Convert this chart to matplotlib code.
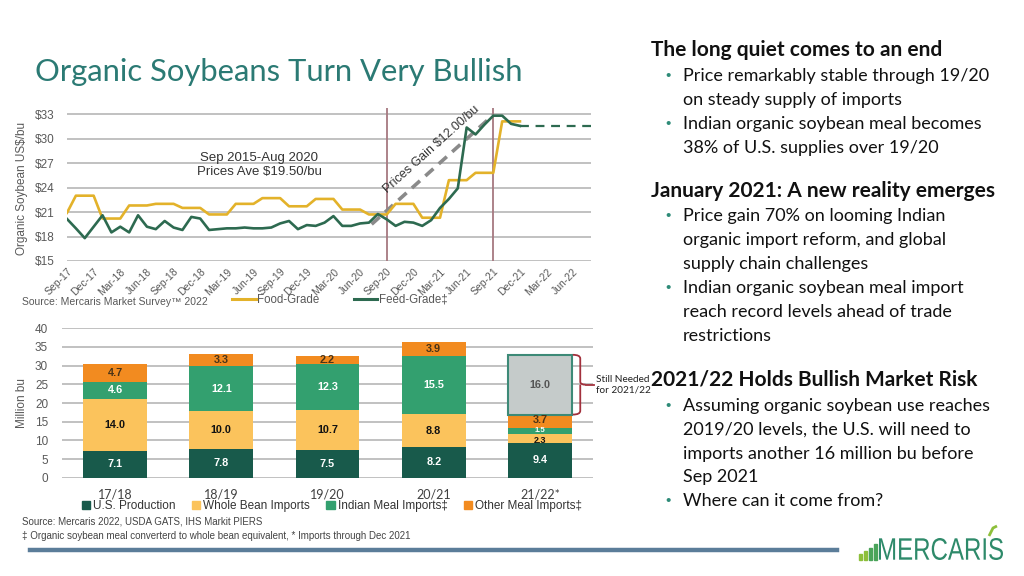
import numpy as np
import pandas as pd
import matplotlib
matplotlib.use("Agg")
import matplotlib.pyplot as plt
from matplotlib.lines import Line2D
from matplotlib.patches import Patch, Rectangle, PathPatch
from matplotlib.path import Path
from matplotlib.textpath import TextPath
from matplotlib.font_manager import FontProperties
from matplotlib.transforms import Affine2D

plt.rcParams['text.parse_math'] = False
plt.rcParams['font.family'] = ['Liberation Sans', 'DejaVu Sans']

# ---- line chart data: monthly prices Sep-17 .. Dec-21, $/bu
food_grade = [20.9, 23.0, 23.0, 23.0, 20.2, 20.2, 20.2, 21.8, 21.8, 21.8,
              22.0, 22.0, 22.0, 21.5, 21.5, 21.5, 20.7, 20.7, 20.7, 22.0,
              22.0, 22.0, 22.7, 22.7, 22.7, 21.7, 21.7, 21.7, 22.6, 22.6,
              22.6, 21.3, 21.3, 21.3, 20.7, 20.7, 20.7, 22.0, 22.0, 22.0,
              20.3, 20.3, 20.3, 24.9, 24.9, 24.9, 25.8, 25.8, 25.8, 32.1,
              32.1, 32.1]
feed_grade = [20.15, 19.0, 17.8, 19.2, 20.6, 18.5, 19.2, 18.5, 20.6, 19.2,
              18.9, 19.9, 19.1, 18.8, 20.4, 20.2, 18.8, 18.9, 19.0, 19.0,
              19.1, 19.0, 19.0, 19.1, 19.6, 19.9, 18.9, 19.4, 19.3, 19.7,
              20.5, 19.3, 19.3, 19.6, 19.7, 20.75, 20.1, 19.3, 19.8, 19.7,
              19.3, 20.0, 21.5, 22.6, 23.9, 31.35, 30.5, 31.7, 32.8, 32.8,
              31.8, 31.55]
# feed-grade outlook (dashed), Dec-21 -> Aug-22
outlook_idx = [51, 59]
outlook_val = [31.55, 31.55]
# "prices gain" guide line (month index, $/bu)
gain_idx = [34.3, 48.0]
gain_val = [19.5, 32.9]
marker_months = ['Sep-20', 'Sep-21']

months = pd.date_range('2017-09-01', '2022-08-01', freq='MS')
month_labels = [d.strftime('%b-%y') for d in months]

# ---- bar chart data, million bu
seasons = ['17/18', '18/19', '19/20', '20/21', '21/22*']
us_production = [7.1, 7.8, 7.5, 8.2, 9.4]
whole_bean = [14.0, 10.0, 10.7, 8.8, 2.3]
indian_meal = [4.6, 12.1, 12.3, 15.5, 1.5]
other_meal = [4.7, 3.3, 2.2, 3.9, 3.7]
still_needed = [0, 0, 0, 0, 16.0]

W, H = 1024, 576
TEAL = '#2b7a74'
FOOD = '#e3b22a'
FEED = '#2d6a50'
C_US = '#185a4b'
C_WB = '#fbc35c'
C_IN = '#33a06f'
C_OT = '#f28b20'
GRID = '#bcbcbc'
GREY_TXT = '#595959'
CAL = ['Lato', 'DejaVu Sans']


def box(l, t, r, b):
    return [l / W, 1 - b / H, (r - l) / W, (b - t) / H]


fig = plt.figure(figsize=(W / 100, H / 100), dpi=100)
fig.patch.set_facecolor('white')

# title
fig.text(35 / W, 1 - 72 / H, 'Organic Soybeans Turn Very Bullish', fontsize=22.3,
         color=TEAL, family=CAL, ha='left', va='center')

# ================= line chart =================
ax1 = fig.add_axes(box(67, 107.5, 591, 261))
ax1.plot(range(len(food_grade)), food_grade, color=FOOD, lw=1.9, zorder=3)
ax1.plot(range(len(feed_grade)), feed_grade, color=FEED, lw=1.9, zorder=4)
ax1.plot(outlook_idx, outlook_val, color=FEED, lw=1.6, dashes=(4, 3), zorder=4)
ax1.plot(gain_idx, gain_val, color='#8a8a8a', lw=2.6, dashes=(3, 2), zorder=2)
for m in marker_months:
    ax1.axvline(month_labels.index(m), color='#a67880', lw=1.3, zorder=1)

ax1.set_xlim(0, len(months) - 1)
ax1.set_ylim(15, 33.8)
ax1.set_yticks(range(15, 34, 3))
ax1.set_yticklabels(['$%d' % v for v in range(15, 34, 3)])
ax1.yaxis.grid(True, color=GRID, lw=1.3)
ax1.set_axisbelow(True)
for s in ax1.spines.values():
    s.set_visible(False)
ax1.set_xticks(range(0, len(months), 3))
ax1.set_xticklabels(month_labels[::3], rotation=45, ha='right',
                    rotation_mode='anchor', fontsize=7.5, color=GREY_TXT)
ax1.tick_params(axis='x', length=0, pad=4)
ax1.tick_params(axis='y', length=0, pad=9, labelsize=8.5, labelcolor=GREY_TXT)

ax1.text(41.0, 28.7, 'Prices Gain $12.00/bu', rotation=42, ha='center', va='center',
         rotation_mode='anchor', fontsize=9, color='#333333')
fig.text(259 / W, 1 - 165 / H, 'Sep 2015-Aug 2020\nPrices Ave $19.50/bu',
         ha='center', va='center', fontsize=9.5, linespacing=1.25, color='#333333')
fig.text(22 / W, 1 - 188 / H, 'Organic Soybean US$/bu', rotation=90, ha='center',
         va='center', fontsize=8.5, color=GREY_TXT)
fig.text(22 / W, 1 - 302 / H, 'Source: Mercaris Market Survey\u2122 2022',
         ha='left', va='center', fontsize=7.5, color=GREY_TXT)
fig.legend([Line2D([], [], color=FOOD, lw=2.2), Line2D([], [], color=FEED, lw=2.2)],
           ['Food-Grade', 'Feed-Grade\u2021'], loc='center',
           bbox_to_anchor=(340 / W, 1 - 300 / H), ncol=2, frameon=False,
           fontsize=8.3, handlelength=2.0, handletextpad=0.15, columnspacing=3.0,
           labelcolor=GREY_TXT)

# ================= bar chart =================
ax2 = fig.add_axes(box(62, 328.3, 593, 477.7))
xb = np.arange(len(seasons))
bw = 0.6
bottom = np.zeros(len(seasons))
series = [(us_production, C_US, 'white'), (whole_bean, C_WB, '#111111'),
          (indian_meal, C_IN, 'white'), (other_meal, C_OT, '#4a3418')]
# where to put the label inside a segment (fraction of height) and size,
# squeezed for the thin 21/22 segments so they stay readable
label_pos = [0.5, 0.28, 0.62, 0.64]
label_fs = [7.8, 6.5, 5.6, 7.8]
for s_i, (vals, col, tcol) in enumerate(series):
    vals = np.array(vals)
    ax2.bar(xb, vals, bw, bottom=bottom, color=col, zorder=3)
    for i, v in enumerate(vals):
        thin = (whole_bean[i] + indian_meal[i]) < 5
        frac = label_pos[s_i] if thin else 0.5
        fs = label_fs[s_i] if thin else 7.8
        ax2.text(xb[i], bottom[i] + v * frac, '%.1f' % v, ha='center', va='center',
                 fontsize=fs, fontweight='bold', color=tcol, zorder=5)
    bottom += vals

# "still needed" block, only where there is a gap
need = np.array(still_needed)
k = int(np.argmax(need))
ax2.bar(xb[k], need[k], bw, bottom=bottom[k], color='#c5cbca', edgecolor='#3d8a77',
        lw=1.5, zorder=3)
ax2.text(xb[k], bottom[k] + need[k] / 2, '%.1f' % need[k], ha='center', va='center',
         fontsize=7.8, fontweight='bold', color='#555555', zorder=5)

# brace next to the "still needed" block
y_bot, y_top = bottom[k], bottom[k] + need[k]
y_mid = (y_bot + y_top) / 2
x0 = xb[k] + bw / 2 + 0.01
xs = x0 + 0.07
xt = x0 + 0.12
verts = [(x0, y_top), (xs, y_top), (xs, y_top - 1.0),
         (xs, y_mid + 0.8), (xs, y_mid), (xt, y_mid),
         (xs, y_mid), (xs, y_mid - 0.8),
         (xs, y_bot + 1.0), (xs, y_bot), (x0, y_bot)]
codes = [Path.MOVETO, Path.CURVE3, Path.CURVE3,
         Path.LINETO, Path.CURVE3, Path.CURVE3,
         Path.MOVETO, Path.CURVE3,
         Path.LINETO, Path.CURVE3, Path.CURVE3]
ax2.add_patch(PathPatch(Path(verts, codes), fill=False, edgecolor='#a2303c',
                        lw=1.3, clip_on=False, zorder=6))
ax2.plot([xt, xt + 0.08], [y_mid, y_mid], color='#a2303c', lw=1.3, clip_on=False)
ax2.text(xt + 0.1, y_mid, 'Still Needed\nfor 2021/22', ha='left', va='center',
         fontsize=7.2, family=CAL, color='#222222', linespacing=1.15)

ax2.set_xlim(-0.5, len(seasons) - 0.5)
ax2.set_ylim(0, 40)
ax2.set_yticks(range(0, 41, 5))
ax2.yaxis.grid(True, color=GRID, lw=1.3)
ax2.set_axisbelow(True)
for s in ax2.spines.values():
    s.set_visible(False)
ax2.set_xticks(xb)
ax2.set_xticklabels(seasons, fontsize=9, color='#404040', family=CAL)
ax2.tick_params(axis='x', length=0, pad=8)
ax2.tick_params(axis='y', length=0, pad=10, labelsize=8.5, labelcolor=GREY_TXT)
fig.text(22 / W, 1 - 403 / H, 'Million bu', rotation=90, ha='center', va='center',
         fontsize=8.5, color=GREY_TXT)
fig.legend([Patch(color=C_US), Patch(color=C_WB), Patch(color=C_IN), Patch(color=C_OT)],
           ['U.S. Production', 'Whole Bean Imports', 'Indian Meal Imports\u2021',
            'Other Meal Imports\u2021'], loc='center',
           bbox_to_anchor=(332 / W, 1 - 506 / H), ncol=4, frameon=False,
           fontsize=8.5, handlelength=0.7, handleheight=0.7, handletextpad=0.25,
           columnspacing=1.4, labelcolor='#333333')
fig.text(22 / W, 1 - 522 / H, 'Source: Mercaris 2022, USDA GATS, IHS Markit PIERS',
         ha='left', va='center', fontsize=7, color='#444444')
fig.text(22 / W, 1 - 536 / H,
         '\u2021 Organic soybean meal converterd to whole bean equivalent, * Imports through Dec 2021',
         ha='left', va='center', fontsize=7, color='#444444')

# ================= right column text =================
headers = [('The long quiet comes to an end', 50),
           ('January 2021: A new reality emerges', 191),
           ('2021/22 Holds Bullish Market Risk', 380)]
bullet_lines = [
    (True, 'Price remarkably stable through 19/20', 76),
    (False, 'on steady supply of imports', 100),
    (True, 'Indian organic soybean meal becomes', 124),
    (False, '38% of U.S. supplies over 19/20', 148),
    (True, 'Price gain 70% on looming Indian', 216),
    (False, 'organic import reform, and global', 240),
    (False, 'supply chain challenges', 264),
    (True, 'Indian organic soybean meal import', 288),
    (False, 'reach record levels ahead of trade', 312),
    (False, 'restrictions', 336),
    (True, 'Assuming organic soybean use reaches', 406),
    (False, '2019/20 levels, the U.S. will need to', 430),
    (False, 'imports another 16 million bu before', 454),
    (False, 'Sep 2021', 477),
    (True, 'Where can it come from?', 501),
]
for txt, y in headers:
    fig.text(651 / W, 1 - y / H, txt, fontsize=15, fontweight='bold', family=CAL,
             color='#111111', ha='left', va='center')
for bul, txt, y in bullet_lines:
    if bul:
        fig.text(668 / W, 1 - y / H, '\u2022', fontsize=11, color='#2e8b78',
                 ha='center', va='center')
    fig.text(683 / W, 1 - y / H, txt, fontsize=13, family=CAL, color='#111111',
             ha='left', va='center')

# ================= footer =================
fig.add_artist(Line2D([30 / W, 837 / W], [1 - 550 / H, 1 - 550 / H], color='#5b7d99',
                      lw=3.2))
# logo: small bars + stretched wordmark
for j, hgt in enumerate([6, 9, 12, 16]):
    fig.add_artist(Rectangle(((859 + j * 5) / W, 1 - 560 / H), 3 / W, hgt / H,
                             color='#8dbf3a' if j < 2 else '#4aa45a'))
tp = TextPath((0, 0), 'MERCARIS', size=1,
              prop=FontProperties(family='Liberation Sans', weight='normal'))
ext = tp.get_extents()
sx = 124 / ext.width
sy = 22 / ext.height
tr = Affine2D().translate(-ext.x0, -ext.y0).scale(sx, sy).translate(879, H - 560)
fig.add_artist(PathPatch(tr.transform_path(tp), color='#2e8a6a', lw=0,
                         transform=None))
fig.add_artist(PathPatch(Path([(989, H - 536), (993, H - 528), (997, H - 526)]),
                         transform=None, fill=False, edgecolor='#8dbf3a', lw=2))

fig.savefig('out.png', dpi=100, facecolor='white')
